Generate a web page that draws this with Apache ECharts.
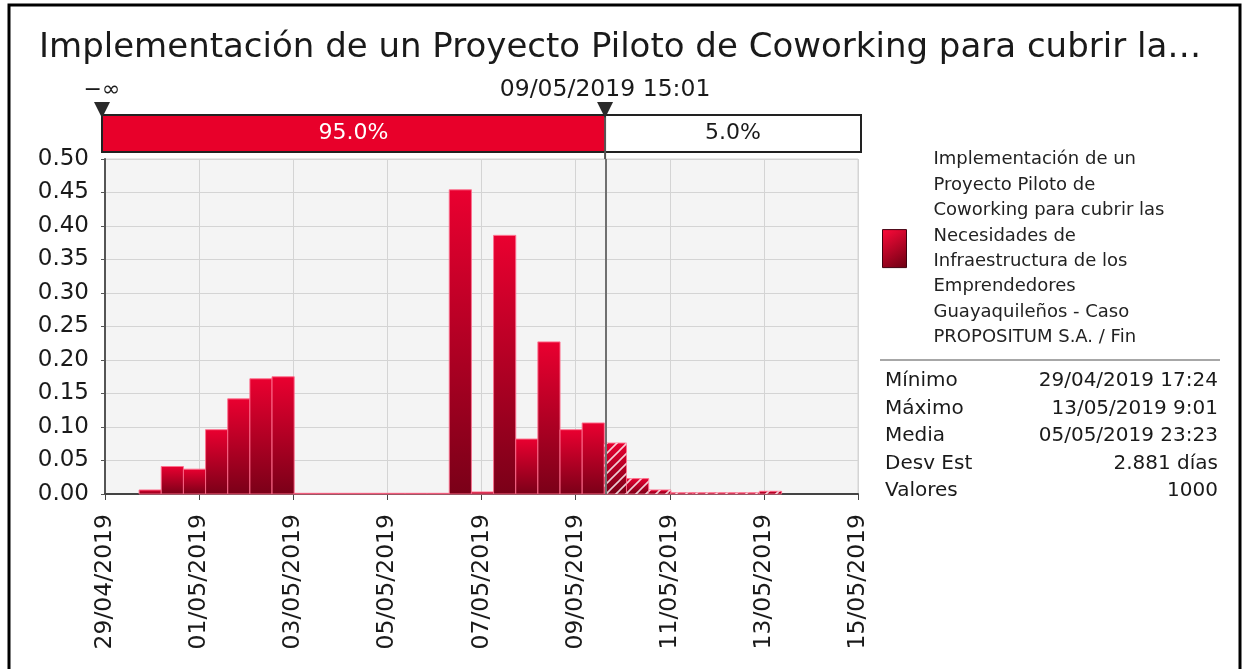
<!DOCTYPE html>
<html>
<head>
<meta charset="utf-8">
<script src="https://cdn.jsdelivr.net/npm/echarts@6/dist/echarts.min.js"></script>
<style>
  html, body { margin: 0; padding: 0; background: #fff; }
  #main { width: 1244px; height: 669px; }
</style>
</head>
<body>
<div id="main"></div>
<script>
// x is in days counted from 29/04/2019 00:00
var tickLabels = ['29/04/2019', '01/05/2019', '03/05/2019', '05/05/2019', '07/05/2019',
                  '09/05/2019', '11/05/2019', '13/05/2019', '15/05/2019'];
var minDay = 0.725;      // 29/04/2019 17:24
var maxDay = 14.376;     // 13/05/2019 9:01
var cutoffDay = 10.626;  // 09/05/2019 15:01
// density per bin (29 bins between min and max)
var density = [0.006, 0.041, 0.037, 0.096, 0.142, 0.172, 0.175,
               0.001, 0.001, 0.001, 0.001, 0.001, 0.001, 0.001,
               0.454, 0.003, 0.386, 0.082, 0.227, 0.096, 0.106,
               0.076, 0.023, 0.006, 0.002, 0.002, 0.002, 0.002, 0.004];
var statNames = ['Mínimo', 'Máximo', 'Media', 'Desv Est', 'Valores'];
var statValues = ['29/04/2019 17:24', '13/05/2019 9:01', '05/05/2019 23:23', '2.881 días', '1000'];
var splitLabels = ['95.0%', '5.0%'];

var seriesName = 'Implementación de un Proyecto Piloto de Coworking para cubrir las Necesidades de Infraestructura de los Emprendedores Guayaquileños - Caso PROPOSITUM S.A. / Fin';
var legendLines = ['Implementación de un', 'Proyecto Piloto de', 'Coworking para cubrir las',
                   'Necesidades de', 'Infraestructura de los', 'Emprendedores',
                   'Guayaquileños - Caso', 'PROPOSITUM S.A. / Fin'];

var FONT = 'DejaVu Sans';
var binWidth = (maxDay - minDay) / density.length;
var bins = density.map(function (v, i) {
    return [minDay + i * binWidth, minDay + (i + 1) * binWidth, v];
});

var hatch = document.createElement('canvas');
hatch.width = 10; hatch.height = 10;
var hc = hatch.getContext('2d');
hc.strokeStyle = 'rgba(255,255,255,0.8)';
hc.lineWidth = 1.6;
hc.beginPath();
hc.moveTo(0, 10); hc.lineTo(10, 0);
hc.moveTo(-2, 2); hc.lineTo(2, -2);
hc.moveTo(8, 12); hc.lineTo(12, 8);
hc.stroke();

function barGradient() {
    return new echarts.graphic.LinearGradient(0, 0, 0, 1, [
        { offset: 0, color: '#ea0030' },
        { offset: 1, color: '#7a0018' }
    ]);
}

function renderBin(params, api) {
    var x0 = api.value(0), x1 = api.value(1), v = api.value(2);
    var a = api.coord([x0, v]);
    var b = api.coord([x1, 0]);
    var shape = { x: a[0], y: a[1], width: b[0] - a[0], height: b[1] - a[1] };
    var kids = [{
        type: 'rect', shape: shape,
        style: { fill: barGradient(), stroke: 'rgba(255,110,140,0.55)', lineWidth: 1 }
    }];
    if (x1 > cutoffDay + 0.05) {
        kids.push({ type: 'rect', shape: shape, style: { fill: { image: hatch, repeat: 'repeat' } } });
    }
    return { type: 'group', children: kids };
}

var chart = echarts.init(document.getElementById('main'));
chart.setOption({
    animation: false,
    backgroundColor: '#fff',
    title: {
        text: 'Implementación de un Proyecto Piloto de Coworking para cubrir la…',
        left: 34, top: 26,
        textStyle: { fontFamily: FONT, fontSize: 34, fontWeight: 'normal', color: '#1a1a1a' }
    },
    legend: {
        data: [{ name: seriesName, icon: 'rect' }],
        orient: 'vertical',
        left: 882, top: 147, padding: 0,
        itemWidth: 24, itemHeight: 38, itemGap: 0,
        selectedMode: false,
        formatter: function () { return legendLines.join('\n'); },
        textStyle: { fontFamily: FONT, fontSize: 18, color: '#222', lineHeight: 25.4, padding: [0, 0, 0, 22] },
        itemStyle: {
            color: new echarts.graphic.LinearGradient(0, 0, 1, 1, [
                { offset: 0, color: '#ff0a3a' }, { offset: 1, color: '#6a0012' }
            ]),
            borderColor: '#400010', borderWidth: 1
        }
    },
    grid: { left: 105, right: 386, top: 159, bottom: 175, show: true, backgroundColor: '#f4f4f4', borderWidth: 1, borderColor: '#d4d4d4' },
    xAxis: {
        type: 'value', min: 0, max: 16, interval: 2,
        axisLine: { show: true, onZero: false, lineStyle: { color: '#444', width: 2 } },
        axisTick: { show: true, length: 6, lineStyle: { color: '#444' } },
        splitLine: { show: true, lineStyle: { color: '#d4d4d4', width: 1 } },
        axisLabel: {
            rotate: 90, margin: 20, fontFamily: FONT, fontSize: 23.5, color: '#1a1a1a',
            formatter: function (v) { return tickLabels[Math.round(v / 2)]; }
        }
    },
    yAxis: {
        type: 'value', min: 0, max: 0.5, interval: 0.05,
        axisLine: { show: true, lineStyle: { color: '#555', width: 2 } },
        axisTick: { show: true, length: 4, lineStyle: { color: '#555' } },
        splitLine: { show: true, lineStyle: { color: '#d4d4d4', width: 1 } },
        axisLabel: {
            margin: 16, fontFamily: FONT, fontSize: 23, color: '#1a1a1a',
            formatter: function (v) { return v.toFixed(2); }
        }
    },
    series: [{
        name: seriesName,
        type: 'custom',
        renderItem: renderBin,
        encode: { x: [0, 1], y: 2 },
        itemStyle: { color: '#c8002a' },
        data: bins,
        markLine: {
            silent: true, symbol: 'none',
            label: { show: false },
            lineStyle: { color: '#707070', width: 2, type: 'solid' },
            data: [{ xAxis: cutoffDay }]
        }
    }]
});

var pL = chart.convertToPixel({ gridIndex: 0 }, [0, 0.5]);
var pC = chart.convertToPixel({ gridIndex: 0 }, [cutoffDay, 0.5]);
var pR = chart.convertToPixel({ gridIndex: 0 }, [16, 0.5]);
var barBottom = pL[1] - 7, barTop = pL[1] - 44;
var leftX = pL[0] - 3, cutX = pC[0], rightX = pR[0] + 3;

function marker(x) {
    return {
        type: 'polygon', z: 20,
        shape: { points: [[x - 8, barTop - 13], [x + 8, barTop - 13], [x, barTop + 3]] },
        style: { fill: '#2a2a2a' }
    };
}

var g = [
    { type: 'rect', shape: { x: 9, y: 5, width: 1231, height: 700 }, style: { fill: null, stroke: '#000', lineWidth: 3 }, z: 30 },
    { type: 'rect', shape: { x: leftX, y: barTop, width: cutX - leftX, height: barBottom - barTop }, style: { fill: '#e8002a' }, z: 10 },
    { type: 'rect', shape: { x: cutX, y: barTop, width: rightX - cutX, height: barBottom - barTop }, style: { fill: '#fff' }, z: 10 },
    { type: 'rect', shape: { x: leftX, y: barTop, width: rightX - leftX, height: barBottom - barTop }, style: { fill: null, stroke: '#222', lineWidth: 2 }, z: 11 },
    { type: 'line', shape: { x1: cutX, y1: barTop, x2: cutX, y2: pL[1] }, style: { stroke: '#555', lineWidth: 2 }, z: 11 },
    { type: 'text', x: (leftX + cutX) / 2, y: (barTop + barBottom) / 2, z: 12,
      style: { text: splitLabels[0], fill: '#fff', font: '22px "DejaVu Sans"', align: 'center', verticalAlign: 'middle' } },
    { type: 'text', x: (cutX + rightX) / 2, y: (barTop + barBottom) / 2, z: 12,
      style: { text: splitLabels[1], fill: '#1a1a1a', font: '22px "DejaVu Sans"', align: 'center', verticalAlign: 'middle' } },
    marker(leftX), marker(cutX),
    { type: 'text', x: leftX, y: barTop - 25, z: 12,
      style: { text: '−∞', fill: '#1a1a1a', font: '22px "DejaVu Sans"', align: 'center', verticalAlign: 'middle' } },
    { type: 'text', x: cutX, y: barTop - 25, z: 12,
      style: { text: '09/05/2019 15:01', fill: '#1a1a1a', font: '23.5px "DejaVu Sans"', align: 'center', verticalAlign: 'middle' } },
    { type: 'line', shape: { x1: 880, y1: 360, x2: 1220, y2: 360 }, style: { stroke: '#8a8a8a', lineWidth: 1.5 } }
];
statNames.forEach(function (n, i) {
    var y = 381 + i * 27.5;
    g.push({ type: 'text', x: 885, y: y, style: { text: n, fill: '#1a1a1a', font: '20px "DejaVu Sans"', align: 'left', verticalAlign: 'middle' } });
    g.push({ type: 'text', x: 1218, y: y, style: { text: statValues[i], fill: '#1a1a1a', font: '20px "DejaVu Sans"', align: 'right', verticalAlign: 'middle' } });
});
chart.setOption({ graphic: g });
</script>
</body>
</html>
